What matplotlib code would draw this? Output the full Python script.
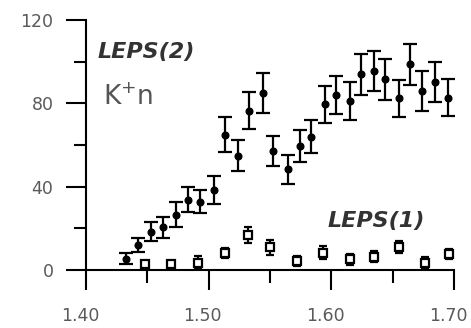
import matplotlib
matplotlib.use('Agg')
import matplotlib.pyplot as plt
import matplotlib.transforms as mtransforms
from matplotlib.ticker import MultipleLocator, FixedLocator

plt.rcParams['font.family'] = ['DejaVu Sans']
plt.rcParams['mathtext.fontset'] = 'dejavusans'

# LEPS(2) K+n (filled points)
x2 = [1.433, 1.442, 1.453, 1.463, 1.473, 1.483, 1.493, 1.504, 1.513, 1.524,
      1.533, 1.544, 1.552, 1.565, 1.574, 1.583, 1.595, 1.604, 1.615, 1.624,
      1.635, 1.644, 1.655, 1.664, 1.674, 1.684, 1.695]
y2 = [5.3, 12, 18.4, 20.5, 26.4, 33.6, 32.8, 38.4, 64.8, 54.9,
      76.5, 85.1, 57.1, 48.3, 59.5, 64, 79.5, 84, 81.1, 93.9,
      95.5, 91.5, 82.4, 98.7, 85.9, 90.4, 82.7]
e2 = [2.6, 3.3, 4.5, 5, 6, 6, 5.5, 6.5, 8.4, 7.6,
      9, 9.6, 7.2, 7, 7.5, 7.8, 9, 9, 9, 10,
      9.6, 9.8, 9, 10, 9.8, 9.6, 9]

# LEPS(1) (open squares)
x1 = [1.448, 1.469, 1.491, 1.513, 1.532, 1.550, 1.572, 1.593, 1.615, 1.635,
      1.655, 1.676, 1.696]
y1 = [2.7, 2.7, 3.5, 8, 16.8, 10.9, 4.3, 8.3, 5.1, 6.4, 10.9, 3.5, 7.7]
e1 = [1.5, 1.5, 3, 2.5, 4, 3.5, 2.5, 3, 2.5, 2.5, 3, 2.5, 2.5]

x_ticks = [1.40, 1.50, 1.60, 1.70]
x_labels = ['1.40', '1.50', '1.60', '1.70']
y_ticks = [0, 40, 80, 120]

fig = plt.figure(figsize=(4.71, 3.28), dpi=100)
ax = fig.add_axes([0.1826, 0.177, 0.7816, 0.762])

ax.errorbar(x2, y2, yerr=e2, fmt='o', color='black', markersize=4.8,
            elinewidth=1.6, capsize=4.7, capthick=1.6, clip_on=False)
ax.errorbar(x1, y1, yerr=e1, fmt='s', color='black', markersize=6,
            markerfacecolor='white', markeredgewidth=1.6,
            elinewidth=1.6, capsize=3, capthick=1.6, clip_on=False)

ax.set_xlim(1.40, 1.70)
ax.set_ylim(0, 120)

ax.set_xticks(x_ticks)
ax.set_xticklabels(x_labels)
ax.xaxis.set_minor_locator(FixedLocator([1.45, 1.55, 1.65]))
ax.set_yticks(y_ticks)
ax.yaxis.set_minor_locator(MultipleLocator(20))

ax.spines['top'].set_visible(False)
ax.spines['right'].set_visible(False)
for s in ['left', 'bottom']:
    ax.spines[s].set_linewidth(1.5)

ax.tick_params(which='major', direction='out', length=14.4, width=1.5,
               labelsize=12.5, labelcolor='#5a5a5a', pad=9)
ax.tick_params(which='minor', direction='out', length=9, width=1.5)
ax.tick_params(axis='x', which='major', pad=12)

# x labels sit slightly left of their ticks in the original
shift = mtransforms.ScaledTranslation(-0.06, 0, fig.dpi_scale_trans)
for lbl in ax.get_xticklabels():
    lbl.set_transform(lbl.get_transform() + shift)

ax.text(1.4095, 101.8, 'LEPS(2)', fontsize=16, fontweight='bold',
        fontstyle='italic', color='#333333', va='baseline', ha='left')
ax.text(1.4135, 79.2, r'K$^{+}$n', fontsize=19, color='#555555',
        va='baseline', ha='left')
ax.text(1.6364, 20.6, 'LEPS(1)', fontsize=16, fontweight='bold',
        fontstyle='italic', color='#333333', va='baseline', ha='center')

plt.savefig('out.png', dpi=100)
